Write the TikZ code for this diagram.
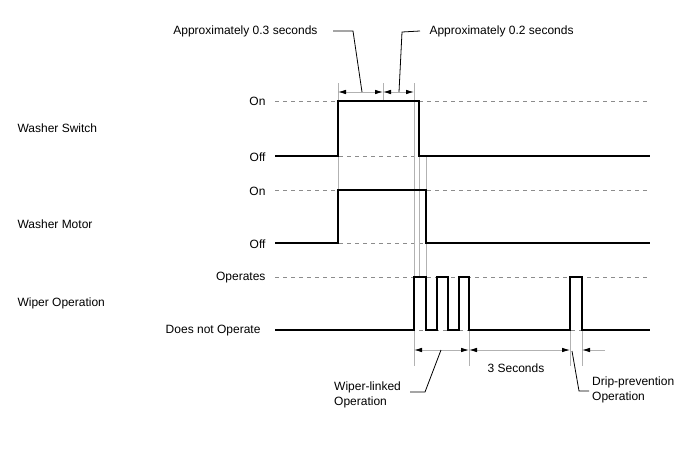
\documentclass[tikz,border=0pt]{standalone}
\usepackage{fontspec}
\setmainfont{Liberation Sans}
\usetikzlibrary{arrows.meta}
\begin{document}
\begin{tikzpicture}[x=1pt,y=-1pt,font=\fontsize{12}{15}\selectfont,
sig/.style={line width=1.6pt,line join=miter},
guide/.style={black!30,line width=0.8pt},
lvl/.style={black!45,line width=0.8pt,dash pattern=on 4pt off 4pt},
dimline/.style={black!30,line width=0.8pt,{Latex[black,length=8pt,width=4.5pt]}-{Latex[black,length=8pt,width=4.5pt]}},
lead/.style={line width=0.8pt}]
\useasboundingbox(0,0)rectangle(688,463);
\draw[lvl](275,101)--(650,101)(275,156)--(650,156)(275,190)--(650,190)
(275,243)--(650,243)(275,277)--(650,277)(275,330)--(650,330);
\draw[guide](338,83)--(338,243)(383,83)--(383,101)(414,83)--(414,366)
(419,156)--(419,277)(426,156)--(426,277)(469,330)--(469,366)
(570,330)--(570,366)(582,330)--(582,366);
\draw[sig](275,156)--(338,156)--(338,101)--(419,101)--(419,156)--(650,156);
\draw[sig](275,243)--(338,243)--(338,190)--(426,190)--(426,243)--(650,243);
\draw[sig](275,330)--(414,330)--(414,277)--(426,277)--(426,330)--(437,330)--(437,277)
--(448,277)--(448,330)--(459,330)--(459,277)--(469,277)--(469,330)--(570,330)
--(570,277)--(582,277)--(582,330)--(650,330);
\node[anchor=west](sw)at(14,128){Washer Switch};
\node[anchor=west](mo)at(14,224){Washer Motor};
\node[anchor=west](wp)at(14,303){Wiper Operation};
\node[anchor=east](swon)at(269,101){On};
\node[anchor=east](swoff)at(269,157){Off};
\node[anchor=east](moon)at(269,191){On};
\node[anchor=east](mooff)at(269,244){Off};
\node[anchor=east](wpop)at(269,278){Operates};
\node[anchor=east](wpno)at(264,331){Does not Operate};
\draw[dimline](338,92)--(383,92);
\draw[dimline](383,92)--(414,92);
\draw[dimline](414,350)--(469,350);
\draw[dimline](469,350)--(570,350);
\draw[black!30,line width=0.8pt,-{Latex[black,length=8pt,width=4.5pt]}](605,350)--(582,350);
\node[anchor=east](t03)at(321,31){Approximately 0.3 seconds};
\node[anchor=west](t02)at(426,31){Approximately 0.2 seconds};
\node(t3s)at(516,368){3 Seconds};
\node[anchor=north west,align=left,inner sep=0pt](wl)at(334,382){Wiper-linked\\Operation};
\node[anchor=north west,align=left,inner sep=0pt](dp)at(592,377){Drip-prevention\\Operation};
\coordinate(a03)at(362,92);
\coordinate(a02)at(399,92);
\coordinate(awl)at(441,350);
\coordinate(adp)at(572,351);
\draw[lead]([xshift=12pt]t03.east)--++(20,0)--(a03);
\draw[lead](a02)--(402,32)--([xshift=-6pt]t02.west);
\draw[lead](410,392)--(425,392)--(awl);
\draw[lead](adp)--(579,391)--(589,391);
\end{tikzpicture}
\end{document}
